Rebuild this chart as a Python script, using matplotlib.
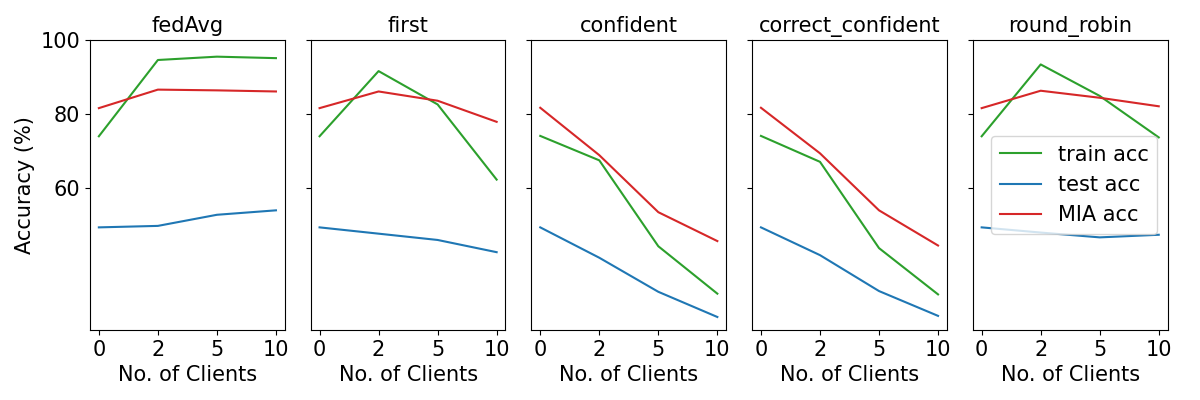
import matplotlib
matplotlib.use('Agg')
import matplotlib.pyplot as plt

plt.rcParams.update({'font.size': 15})

clients = ['0', '2', '5', '10']
methods = ['fedAvg', 'first', 'confident', 'correct_confident', 'round_robin']

# train / test / MIA accuracy per method
train_fedAvg = [74.0, 94.6, 95.5, 95.1]
test_fedAvg = [49.4, 49.8, 52.8, 54.0]
mia_fedAvg = [81.6, 86.6, 86.4, 86.1]

train_first = [74.0, 91.6, 82.6, 62.3]
test_first = [49.4, 47.7, 46.0, 42.7]
mia_first = [81.6, 86.1, 83.6, 77.9]

train_confident = [74.1, 67.5, 44.3, 31.5]
test_confident = [49.4, 41.2, 32.0, 25.2]
mia_confident = [81.7, 68.9, 53.5, 45.7]

train_correct = [74.1, 67.1, 43.8, 31.3]
test_correct = [49.4, 41.9, 32.2, 25.5]
mia_correct = [81.7, 69.4, 54.0, 44.5]

train_rr = [74.0, 93.4, 84.9, 73.7]
test_rr = [49.4, 48.0, 46.7, 47.4]
mia_rr = [81.6, 86.3, 84.4, 82.1]

train = [train_fedAvg, train_first, train_confident, train_correct, train_rr]
test = [test_fedAvg, test_first, test_confident, test_correct, test_rr]
mia = [mia_fedAvg, mia_first, mia_confident, mia_correct, mia_rr]

fig, axes = plt.subplots(1, 5, figsize=(12, 4), sharey=True)
for i in range(len(methods)):
    ax = axes[i]
    ax.plot(clients, train[i], color='tab:green', label='train acc')
    ax.plot(clients, test[i], color='tab:blue', label='test acc')
    ax.plot(clients, mia[i], color='tab:red', label='MIA acc')
    ax.set_title(methods[i], fontsize=15)
    ax.set_xlabel('No. of Clients')
axes[0].set_ylabel('Accuracy (%)')
axes[0].set_ylim(top=100)
axes[0].set_yticks([60, 80, 100])
axes[-1].legend(loc='center right')
plt.subplots_adjust(left=0.075, right=0.973, top=0.90, bottom=0.175, wspace=0.133)
plt.savefig('out.png')
